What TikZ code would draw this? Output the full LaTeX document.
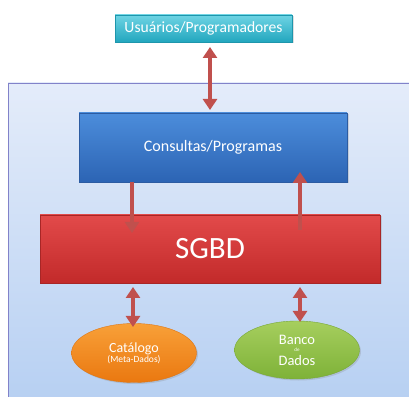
\documentclass[tikz,border=0pt]{standalone}
\usepackage{fontspec}
\setmainfont{Carlito}
\usetikzlibrary{arrows.meta,shapes.geometric,shadows}
\definecolor{arrowred}{HTML}{C0504D}
\tikzset{
  box/.style={rectangle, minimum width=#1, inner sep=0pt, text=white},
  arr/.style={draw=arrowred, line width=4.5pt,
    {Triangle[width=14pt,length=11pt]}-{Triangle[width=14pt,length=11pt]}},
  arrone/.style={draw=arrowred, line width=4.5pt,
    -{Triangle[width=14pt,length=11pt]}},
  soft/.style={drop shadow={opacity=0.25, shadow xshift=1.5pt, shadow yshift=-1.5pt}}
}
\begin{document}
\begin{tikzpicture}[x=1pt,y=1pt]
  \useasboundingbox (0,0) rectangle (409,396);
  % system frame
  \path[draw=blue!40!gray!70, line width=0.8pt, top color={rgb,255:red,228;green,236;blue,250},
        bottom color={rgb,255:red,183;green,208;blue,242}]
        (8,313) rectangle (414,-4);

  % users
  \node[box=177pt, minimum height=27pt, draw={rgb,255:red,30;green,150;blue,172},
        top color={rgb,255:red,110;green,212;blue,228}, bottom color={rgb,255:red,34;green,166;blue,190},
        soft, font=\fontsize{15.6}{17}\selectfont]
        (user) at (203.5,367.5) {Usuários/Programadores};

  % queries / programs
  \node[box=268pt, minimum height=69pt, draw={rgb,255:red,44;green,92;blue,162},
        top color={rgb,255:red,76;green,141;blue,219}, bottom color={rgb,255:red,44;green,100;blue,180},
        soft, font=\fontsize{16}{18}\selectfont]
        (cons) at (213,248.5) {Consultas/Programas};

  % DBMS
  \node[box=340pt, minimum height=68pt, draw={rgb,255:red,168;green,38;blue,38},
        top color={rgb,255:red,226;green,74;blue,74}, bottom color={rgb,255:red,194;green,42;blue,42},
        soft, font=\fontsize{31}{34}\selectfont]
        (sgbd) at (210,147) {SGBD};

  % catalog and database
  \node[ellipse, minimum width=125pt, minimum height=59pt, inner sep=0pt, text=white,
        draw={rgb,255:red,222;green,118;blue,20},
        top color={rgb,255:red,248;green,160;blue,56}, bottom color={rgb,255:red,234;green,120;blue,16},
        soft, align=center]
        (cat) at (134,43) {{\fontsize{14}{15}\selectfont Catálogo}\\[-2pt]{\fontsize{9.5}{11}\selectfont (Meta-Dados)}};
  \node[ellipse, minimum width=125pt, minimum height=58pt, inner sep=0pt, text=white,
        draw={rgb,255:red,120;green,168;blue,52},
        top color={rgb,255:red,166;green,206;blue,94}, bottom color={rgb,255:red,126;green,178;blue,56},
        soft, align=center]
        (db) at (297,46) {{\fontsize{14.5}{14}\selectfont Banco}\\[-5pt]{\fontsize{5}{5}\selectfont de}\\[2pt]{\fontsize{14.5}{14}\selectfont Dados}};

  % connectors
  \coordinate (u1) at (210,354);
  \coordinate (c1) at (210,283);
  \draw[arr, shorten <=5pt, shorten >=3pt] (u1) -- (c1);

  \coordinate (c2) at (132,214);
  \coordinate (s1) at (132,163);
  \draw[arrone] (c2) -- (s1);

  \coordinate (s2) at (300,166);
  \coordinate (c3) at (300,224);
  \draw[arrone] (s2) -- (c3);

  \coordinate (s3) at (133,109);
  \coordinate (k1) at (133,69);
  \draw[arr] (s3) -- (k1);

  \coordinate (s4) at (300,109);
  \coordinate (d1) at (300,74);
  \draw[arr] (s4) -- (d1);
\end{tikzpicture}
\end{document}
